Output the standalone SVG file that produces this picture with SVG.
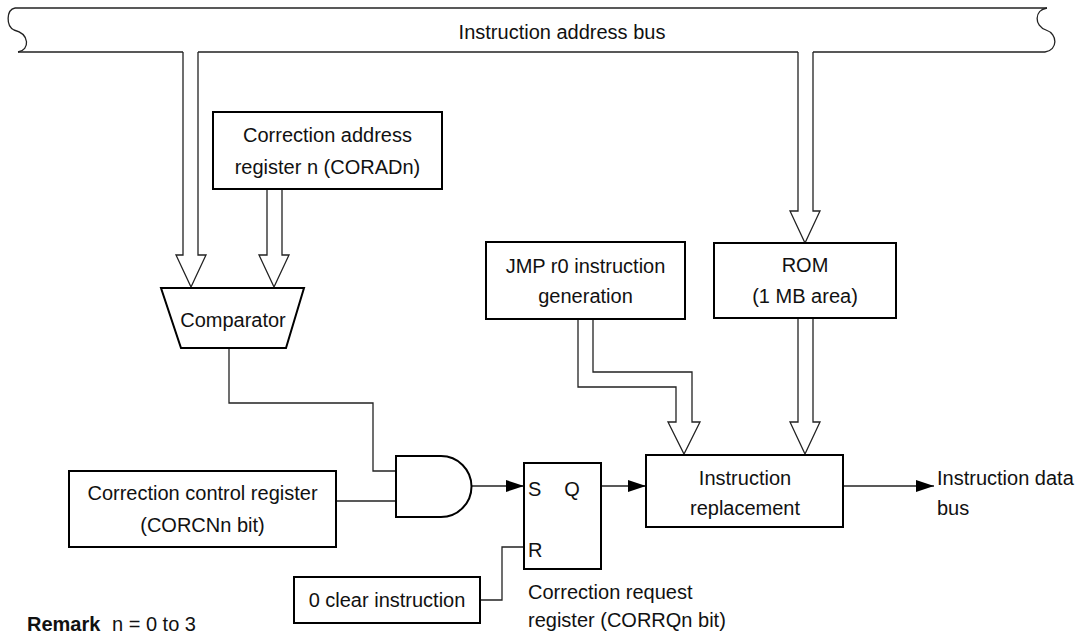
<svg xmlns="http://www.w3.org/2000/svg" width="1080" height="637" viewBox="0 0 1080 637">
<defs>
<style>
.box{fill:#fff;stroke:#000;stroke-width:2}
.ln{fill:none;stroke:#222;stroke-width:1.3}
.bus{fill:#fff;stroke:#222;stroke-width:1.3;stroke-linejoin:miter}
text{font-family:"Liberation Sans",Arial,sans-serif;font-size:20px;fill:#111}
.c{text-anchor:middle}
</style>
<marker id="ah" markerWidth="18" markerHeight="12" refX="18" refY="6" orient="auto" markerUnits="userSpaceOnUse">
<path d="M0,0 L18,6 L0,12 Z" fill="#000"/>
</marker>
</defs>
<rect width="1080" height="637" fill="#fff"/>

<g id="address-bus">
<path class="ln" d="M15,8 H1047"/>
<path class="ln" d="M15,8 C6,10 6,26 14,30 C30,34 30,50 18,52"/>
<path class="ln" d="M1047,8 C1034,10 1034,26 1046,30 C1058,34 1058,50 1045,52"/>
<path class="ln" d="M18,52 H183 M198,52 H798 M813,52 H1045"/>
<text class="c" x="562" y="39">Instruction address bus</text>
</g>

<g id="connectors">
<path class="bus" d="M183,52 V255 H176 L191,287 L206,255 H198 V52"/>
<path class="bus" d="M798,52 V211 H790 L805,243 L820,211 H813 V52"/>
<path class="bus" d="M267,189 V255 H259 L274,287 L289,255 H282 V189"/>
<path class="bus" d="M578,319 V387 H676 V422 H668 L684,454 L700,422 H692 V372 H593 V319"/>
<path class="bus" d="M798,318 V422 H790 L805,454 L820,422 H813 V318"/>
<path class="ln" d="M229,348 V403 H373 V471 H396"/>
<path class="ln" d="M336,501 H396"/>
<path class="ln" d="M471,486 H524" marker-end="url(#ah)"/>
<path class="ln" d="M601,486 H646" marker-end="url(#ah)"/>
<path class="ln" d="M480,600 H502 V547 H524"/>
<path class="ln" d="M843,486 H934" marker-end="url(#ah)"/>
</g>

<g id="coradn">
<rect class="box" x="213" y="112" width="229" height="77"/>
<text class="c" x="327.5" y="142">Correction address</text>
<text class="c" x="327.5" y="174">register n (CORADn)</text>
</g>

<g id="comparator">
<path class="box" d="M161,288 H304 L286,348 H181 Z"/>
<text class="c" x="233" y="327">Comparator</text>
</g>

<g id="jmp">
<rect class="box" x="486" y="242" width="199" height="77"/>
<text class="c" x="585.5" y="273">JMP r0 instruction</text>
<text class="c" x="585.5" y="303">generation</text>
</g>

<g id="rom">
<rect class="box" x="714" y="243" width="182" height="75"/>
<text class="c" x="805" y="272">ROM</text>
<text class="c" x="805" y="303">(1 MB area)</text>
</g>

<g id="corcn">
<rect class="box" x="69" y="471" width="267" height="76"/>
<text class="c" x="202.5" y="500">Correction control register</text>
<text class="c" x="202.5" y="532">(CORCNn bit)</text>
</g>

<g id="and-gate">
<path class="box" d="M396,456 H441 A30.5,30.5 0 0 1 441,517 H396 Z"/>
</g>

<g id="sr-flipflop">
<rect class="box" x="524" y="463" width="77" height="106"/>
<text x="528" y="496">S</text>
<text class="c" x="572" y="496">Q</text>
<text x="528" y="557">R</text>
<text x="528" y="599">Correction request</text>
<text x="528" y="627">register (CORRQn bit)</text>
</g>

<g id="zero-clear">
<rect class="box" x="294" y="577" width="186" height="46"/>
<text class="c" x="387" y="607">0 clear instruction</text>
</g>

<g id="replacement">
<rect class="box" x="646" y="455" width="197" height="72"/>
<text class="c" x="745" y="485">Instruction</text>
<text class="c" x="745" y="515">replacement</text>
</g>

<g id="data-bus">
<text x="937" y="485">Instruction data</text>
<text x="937" y="515">bus</text>
</g>

<g id="remark">
<text x="27" y="631"><tspan font-weight="bold">Remark</tspan><tspan x="112">n = 0 to 3</tspan></text>
</g>
</svg>
